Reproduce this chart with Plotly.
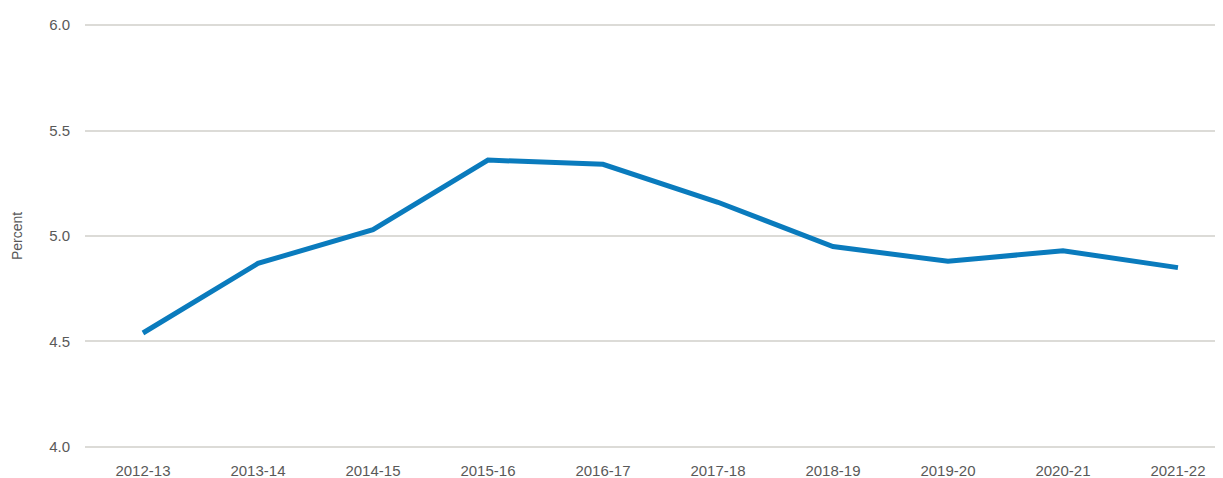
import plotly.graph_objects as go

years = ["2012-13", "2013-14", "2014-15", "2015-16", "2016-17",
         "2017-18", "2018-19", "2019-20", "2020-21", "2021-22"]
percent = [4.54, 4.87, 5.03, 5.36, 5.34, 5.16, 4.95, 4.88, 4.93, 4.85]
y_ticks = [4.0, 4.5, 5.0, 5.5, 6.0]

fig = go.Figure()
fig.add_trace(go.Scatter(
    x=years, y=percent, mode="lines",
    line=dict(color="#0a7bbd", width=5),
    hoverinfo="x+y", showlegend=False,
))

tick_font = dict(family="Liberation Sans, Arial, sans-serif", size=15, color="#595959")
title_font = dict(family="Liberation Sans, Arial, sans-serif", size=14, color="#595959")
fig.update_layout(
    width=1223, height=478,
    margin=dict(l=77, r=9, t=14.6, b=37.2, autoexpand=False),
    paper_bgcolor="white", plot_bgcolor="white",
    font=tick_font,
    xaxis=dict(showgrid=False, showline=False, ticks="", tickfont=tick_font,
               range=[-0.504, 9.383], ticklabelstandoff=11),
    yaxis=dict(range=[3.99, 6.01], tickvals=y_ticks,
               ticktext=[f"{v:.1f}" for v in y_ticks], tickfont=tick_font,
               showgrid=True, gridcolor="#dcdbd7", gridwidth=1.5,
               zeroline=False, showline=False, ticks="",
               ticklabelstandoff=14,
               title=dict(text="Percent", font=title_font, standoff=23)),
)
fig.write_html("out.html")
